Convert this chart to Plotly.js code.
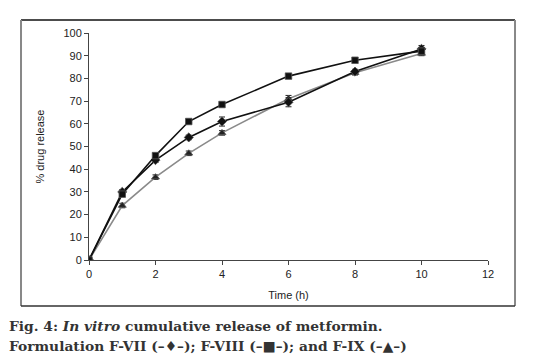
<!DOCTYPE html>
<html><head><meta charset="utf-8">
<script src="https://cdn.plot.ly/plotly-3.0.1.min.js"></script>
<style>html,body{margin:0;padding:0;background:#fff}#chart{width:536px;height:363px}</style>
</head><body><div id="chart"></div>
<script>
var time = [0, 1, 2, 3, 4, 6, 8, 10];
var f7 = [0, 30, 44, 54, 61, 69.5, 83, 93];
var f7err = [0, 1, 1, 1, 2, 2, 1, 1.5];
var f8 = [0, 29, 46, 61, 68.5, 81, 88, 92];
var f8err = [0, 1, 1, 1, 1, 1, 1, 1.5];
var f9 = [0, 24, 36.5, 47, 56, 71, 82.5, 91];
var f9err = [0, 1, 1, 1, 1, 1.5, 1, 1];
var xTicks = [0, 2, 4, 6, 8, 10, 12];
var yTicks = [0, 10, 20, 30, 40, 50, 60, 70, 80, 90, 100];

function tr(name, y, err, sym, size, lc, mc) {
  return {x: time, y: y, name: name, type: 'scatter', mode: 'lines+markers',
    line: {color: lc, width: 1.6},
    marker: {symbol: sym, size: size, color: mc, line: {color: '#555', width: 0.8}},
    error_y: {type: 'data', array: err, visible: true, color: '#222', thickness: 1, width: 3}};
}
var data = [
  tr('F-IX', f9, f9err, 'triangle-up', 7, '#8a8a8a', '#222'),
  tr('F-VII', f7, f7err, 'diamond', 7, '#111', '#111'),
  tr('F-VIII', f8, f8err, 'square', 6.5, '#111', '#111')
];
var axisFont = {family: 'Liberation Sans, Arial, sans-serif', size: 11, color: '#222'};
var capFont = {family: 'DejaVu Serif, serif', size: 13.8, color: '#333'};
var layout = {
  width: 536, height: 363, showlegend: false,
  margin: {l: 89, r: 48, t: 33, b: 103},
  paper_bgcolor: '#fff', plot_bgcolor: '#fff',
  xaxis: {range: [0, 12], tickvals: xTicks, ticks: 'outside', ticklen: 4, tickcolor: '#444',
    showline: true, linecolor: '#444', linewidth: 1, showgrid: false, zeroline: false,
    tickfont: axisFont, title: {text: 'Time (h)', font: axisFont, standoff: 12}},
  yaxis: {range: [0, 100], tickvals: yTicks, ticks: 'outside', ticklen: 4, tickcolor: '#444',
    showline: true, linecolor: '#444', linewidth: 1, showgrid: false, zeroline: false,
    tickfont: axisFont, title: {text: '% drug release', font: axisFont, standoff: 16}},
  shapes: [
    {type: 'line', xref: 'paper', yref: 'paper', x0: -0.1704, x1: 1.0677, y0: 1.0573, y1: 1.0573, line: {color: '#111', width: 1.5}},
    {type: 'line', xref: 'paper', yref: 'paper', x0: 1.0677, x1: 1.0677, y0: 1.0573, y1: -0.2026, line: {color: '#888', width: 2}},
    {type: 'line', xref: 'paper', yref: 'paper', x0: -0.1704, x1: -0.1704, y0: 1.0573, y1: -0.2026, line: {color: '#888', width: 2}},
    {type: 'line', xref: 'paper', yref: 'paper', x0: -0.1704, x1: 1.0677, y0: -0.2026, y1: -0.2026, line: {color: '#333', width: 1.5}}
  ],
  annotations: [
    {xref: 'paper', yref: 'paper', x: -0.2055, y: -0.2907, xanchor: 'left', yanchor: 'middle', showarrow: false,
     text: '<b>Fig. 4: <i>In vitro</i> cumulative release of metformin.</b>', font: capFont},
    {xref: 'paper', yref: 'paper', x: -0.2055, y: -0.379, xanchor: 'left', yanchor: 'middle', showarrow: false,
     text: '<b>Formulation F-VII (–♦–); F-VIII (–■–); and F-IX (–▲–)</b>', font: capFont}
  ]
};
Plotly.newPlot('chart', data, layout, {displayModeBar: false, staticPlot: true});
</script></body></html>
